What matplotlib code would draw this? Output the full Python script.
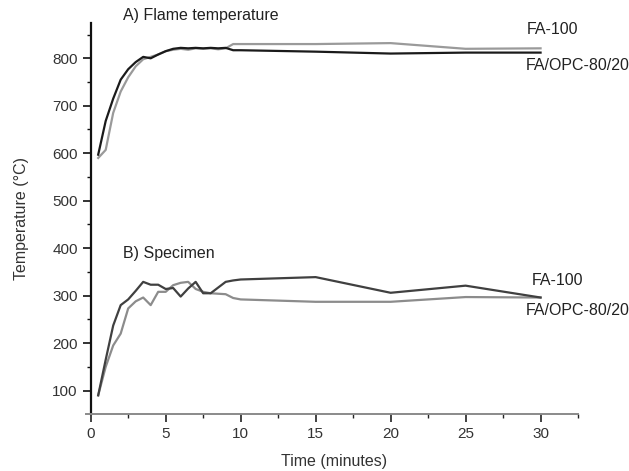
import matplotlib
matplotlib.use("Agg")
import matplotlib.pyplot as plt
from matplotlib.ticker import MultipleLocator, FixedLocator

plt.rcParams['font.family'] = ['Liberation Sans', 'DejaVu Sans']

# Time (minutes)
time = [0.5, 1.0, 1.5, 2.0, 2.5, 3.0, 3.5, 4.0, 4.5, 5.0, 5.5, 6.0, 6.5, 7.0,
        7.5, 8.0, 8.5, 9.0, 9.5, 10, 15, 20, 25, 30]

# A) Flame temperature
flame_fa100 = [590, 607, 685, 730, 760, 783, 798, 803, 808, 815, 818, 820, 818, 821,
               820, 821, 819, 821, 830, 830, 830, 832, 820, 821]
flame_faopc = [597, 668, 715, 755, 777, 792, 803, 800, 808, 815, 820, 822, 821, 822,
               821, 822, 821, 822, 817, 817, 814, 810, 812, 812]

# B) Specimen
spec_fa100 = [90, 165, 237, 280, 292, 310, 329, 323, 323, 314, 316, 298, 315, 329,
              305, 305, 317, 329, 332, 334, 339, 306, 321, 296]
spec_faopc = [90, 150, 195, 220, 273, 288, 296, 280, 308, 308, 322, 327, 329, 314,
              308, 305, 304, 303, 295, 292, 287, 287, 297, 296]

yticks = [100, 200, 300, 400, 500, 600, 700, 800]
xticks = [0, 5, 10, 15, 20, 25, 30]

fig = plt.figure(figsize=(6.29, 4.71), dpi=100)
ax = fig.add_axes([0.1442, 0.1204, 0.7748, 0.8314])

ax.plot(time, flame_fa100, color='#9a9a9a', lw=1.6)
ax.plot(time, flame_faopc, color='#1a1a1a', lw=1.6)
ax.plot(time, spec_faopc, color='#8c8c8c', lw=1.6)
ax.plot(time, spec_fa100, color='#404040', lw=1.6)

ax.set_xlim(0, 32.5)
ax.set_ylim(50, 875)

ax.spines['top'].set_visible(False)
ax.spines['right'].set_visible(False)
ax.spines['left'].set_color('#111111')
ax.spines['left'].set_linewidth(1.6)
ax.spines['bottom'].set_color('#8a8a8a')
ax.spines['bottom'].set_linewidth(1.4)
ax.spines['bottom'].set_bounds(-0.3, 32.5)

ax.set_xticks(xticks)
ax.set_yticks(yticks)
ax.xaxis.set_minor_locator(MultipleLocator(2.5))
ax.yaxis.set_minor_locator(FixedLocator([150, 250, 350, 450, 550, 650, 750, 850]))
ax.tick_params(axis='both', which='major', direction='out', length=5.8, width=1.2,
               labelsize=11, colors='#111111', labelcolor='#333333')
ax.tick_params(axis='both', which='minor', direction='out', length=3, width=1.0,
               colors='#111111')
ax.tick_params(axis='x', which='both', color='#222222')

ax.set_xlabel('Time (minutes)', fontsize=11.5, color='#333333', labelpad=9)
ax.set_ylabel('Temperature (°C)', fontsize=11.5, color='#333333', labelpad=17)

txt = dict(fontsize=11.5, color='#222222', clip_on=False, va='center')
ax.text(2.15, 891, 'A) Flame temperature', ha='left', **txt)
ax.text(2.15, 389, 'B) Specimen', ha='left', **txt)
ax.text(29.1, 860, 'FA-100', ha='left', **txt)
ax.text(29.0, 785, 'FA/OPC-80/20', ha='left', **txt)
ax.text(29.4, 331, 'FA-100', ha='left', **txt)
ax.text(29.0, 268, 'FA/OPC-80/20', ha='left', **txt)

fig.savefig('out.png', dpi=100)
